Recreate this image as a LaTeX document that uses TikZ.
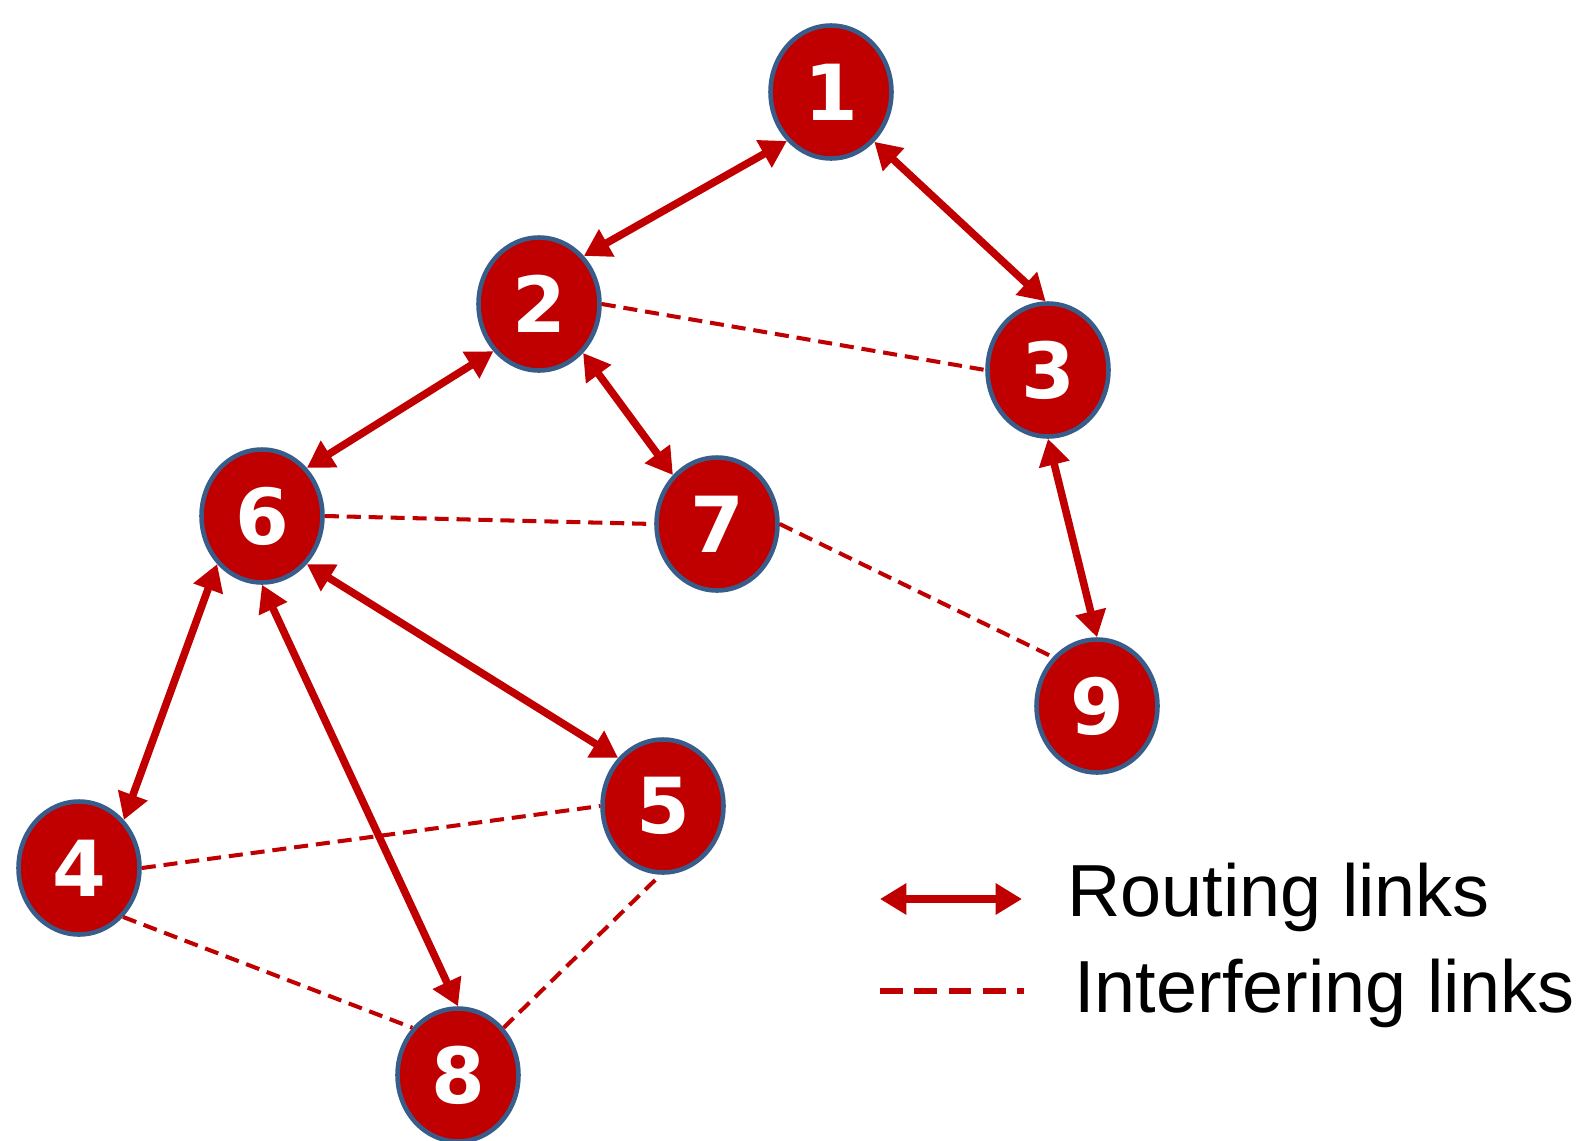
\documentclass[tikz,border=0pt]{standalone}
\usepackage{fontspec}
\usetikzlibrary{shapes.geometric, arrows.meta}
\newfontfamily\numfont{DejaVu Sans}
\newfontfamily\legendfont{Liberation Sans}
\definecolor{linkred}{HTML}{C00000}
\definecolor{rimblue}{HTML}{385D8A}
\tikzset{
    station/.style={ellipse, draw=rimblue, line width=2.6pt, fill=linkred,
        minimum width=2.42cm, minimum height=2.66cm, inner sep=0pt,
        text=white, font=\numfont\bfseries\fontsize{44}{44}\selectfont},
    routing/.style={linkred, line width=4.3pt,
        {Triangle[length=15pt, width=17pt]}-{Triangle[length=15pt, width=17pt]}},
    interfering/.style={linkred, line width=2.3pt, dash pattern=on 8pt off 4.5pt}
}

\begin{document}
\begin{tikzpicture}[x=0.02cm, y=-0.02cm]
            \clip (0,0) rectangle (1586,1140);
            \useasboundingbox (0,0) rectangle (1586,1140);

            \node[station] (n1) at (831,92) {1};
            \node[station] (n2) at (539,304) {2};
            \node[station] (n3) at (1048,370) {3};
            \node[station] (n6) at (262,516) {6};
            \node[station] (n7) at (717,524) {7};
            \node[station] (n9) at (1097,706) {9};
            \node[station] (n5) at (663,806) {5};
            \node[station] (n4) at (79,868) {4};
            \node[station] (n8) at (458,1075) {8};

            % routing links, border angles
            \foreach \a/\b in {n1.228/n2.47, n1.311/n3.92, n2.226/n6.47, n2.312/n7.132,
                               n3.270/n9.90, n6.227/n4.47, n6.270/n8.90, n6.313/n5.133}{
                \draw[routing] (\a) -- (\b);
            }

            % interfering links
            \foreach \a/\b in {n2.0/n3.180, n6.0/n7.180, n7.0/n9.132, n4.0/n5.180,
                               n4.312/n8.134, n8.46/n5.268}{
                \draw[interfering] (\a) -- (\b);
            }

            % legend
            \coordinate (ra) at (880,899);
            \coordinate (rb) at (1022,899);
            \coordinate (ia) at (880,991);
            \coordinate (ib) at (1024,991);
            \draw[routing] (ra) -- (rb);
            \draw[linkred, line width=3pt, dash pattern=on 13pt off 6.5pt] (ia) -- (ib);
            \node[anchor=west, inner sep=0pt, font=\legendfont\fontsize{42}{42}\selectfont]
                (rtext) at (1067,897) {Routing links};
            \node[anchor=west, inner sep=0pt, font=\legendfont\fontsize{42}{42}\selectfont]
                (itext) at (1074,993) {Interfering links};
        \end{tikzpicture}
\end{document}
